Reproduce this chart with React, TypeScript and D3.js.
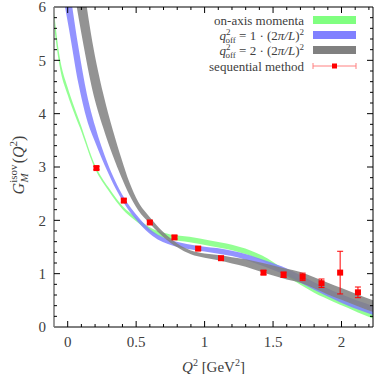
import React, { useEffect, useRef } from "react";
import * as d3 from "d3";

// on-axis momenta band (centre + half width)
const onAxisQ2 = [-0.1, -0.06, 0.0, 0.04, 0.09, 0.2, 0.3, 0.4, 0.5, 0.62, 0.75, 0.89, 1.04, 1.2, 1.33, 1.42, 1.5, 1.6, 1.7, 1.8, 1.94, 2.04, 2.12, 2.23];
const onAxisMid = [5.78, 5.0, 4.42, 4.12, 3.78, 3.0, 2.58, 2.24, 2.02, 1.8, 1.69, 1.64, 1.57, 1.49, 1.39, 1.29, 1.17, 1.0, 0.84, 0.69, 0.53, 0.42, 0.33, 0.22];
const onAxisHalf = [0.13, 0.09, 0.07, 0.06, 0.05, 0.035, 0.03, 0.03, 0.035, 0.04, 0.045, 0.05, 0.05, 0.05, 0.05, 0.05, 0.05, 0.05, 0.05, 0.05, 0.055, 0.055, 0.06, 0.06];

// q_off^2 = 1 (2pi/L)^2
const off1Q2 = [-0.03, 0.01, 0.08, 0.14, 0.2, 0.29, 0.35, 0.41, 0.52, 0.62, 0.77, 0.87, 1.0, 1.09, 1.2, 1.33, 1.45, 1.6, 1.7, 1.8, 1.94, 2.04, 2.12, 2.23];
const off1Mid = [6.65, 6.0, 4.88, 4.13, 3.62, 3.0, 2.66, 2.38, 2.0, 1.75, 1.57, 1.51, 1.46, 1.43, 1.38, 1.29, 1.18, 1.03, 0.9, 0.77, 0.6, 0.49, 0.41, 0.31];
const off1Half = [0.5, 0.42, 0.34, 0.24, 0.15, 0.08, 0.065, 0.055, 0.05, 0.045, 0.045, 0.045, 0.045, 0.05, 0.05, 0.055, 0.06, 0.065, 0.07, 0.07, 0.075, 0.08, 0.08, 0.085];

// q_off^2 = 2 (2pi/L)^2
const off2Q2 = [0.05, 0.106, 0.18, 0.26, 0.33, 0.39, 0.45, 0.515, 0.6, 0.7, 0.8, 0.9, 1.0, 1.1, 1.2, 1.3, 1.4, 1.5, 1.6, 1.7, 1.8, 1.9, 2.0, 2.1, 2.23];
const off2Mid = [6.9, 6.0, 4.9, 4.05, 3.45, 3.0, 2.6, 2.27, 2.0, 1.73, 1.53, 1.4, 1.34, 1.3, 1.25, 1.2, 1.13, 1.06, 0.99, 0.93, 0.83, 0.72, 0.62, 0.52, 0.39];
const off2Half = [0.66, 0.58, 0.45, 0.32, 0.24, 0.18, 0.12, 0.08, 0.06, 0.045, 0.035, 0.035, 0.04, 0.05, 0.06, 0.07, 0.085, 0.095, 0.1, 0.1, 0.105, 0.11, 0.11, 0.11, 0.11];

// sequential method points
const seqQ2 = [0.21, 0.41, 0.6, 0.78, 0.953, 1.12, 1.43, 1.577, 1.716, 1.854, 1.99, 2.12];
const seqG = [2.98, 2.37, 1.96, 1.68, 1.47, 1.29, 1.02, 0.98, 0.94, 0.82, 1.02, 0.65];
const seqErr = [0.03, 0.03, 0.03, 0.03, 0.03, 0.03, 0.04, 0.05, 0.07, 0.08, 0.4, 0.1];

const xTicks = [0, 0.5, 1, 1.5, 2];
const yTicks = [0, 1, 2, 3, 4, 5, 6];

const GREEN = "#80ff80";
const BLUE = "#8080ff";
const GRAY = "#808080";
const RED = "#ff0000";
const TEXT = "#404040";
const FONT = "Liberation Serif, serif";

export default function App() {
  const svgRef = useRef<SVGSVGElement>(null);

  useEffect(() => {
    if (!svgRef.current) return;
    const width = 375;
    const height = 374;
    const m = { left: 54, right: 2, top: 7, bottom: 47 };

    const svg = d3.select(svgRef.current);
    svg.selectAll("*").remove();
    svg.attr("viewBox", `0 0 ${width} ${height}`);

    const x = d3.scaleLinear().domain([-0.1, 2.23]).range([m.left, width - m.right]);
    const y = d3.scaleLinear().domain([0, 6]).range([height - m.bottom, m.top]);

    svg.append("defs")
      .append("clipPath")
      .attr("id", "plot-clip")
      .append("rect")
      .attr("x", m.left)
      .attr("y", m.top)
      .attr("width", width - m.left - m.right)
      .attr("height", height - m.top - m.bottom);

    const plot = svg.append("g").attr("clip-path", "url(#plot-clip)");

    // bands
    const bands = [
      { q: onAxisQ2, mid: onAxisMid, half: onAxisHalf, color: GREEN },
      { q: off1Q2, mid: off1Mid, half: off1Half, color: BLUE },
      { q: off2Q2, mid: off2Mid, half: off2Half, color: GRAY },
    ];
    bands.forEach((b) => {
      const area = d3
        .area<number>()
        .x((i) => x(b.q[i]))
        .y0((i) => y(b.mid[i] - b.half[i]))
        .y1((i) => y(b.mid[i] + b.half[i]))
        .curve(d3.curveMonotoneX);
      plot
        .append("path")
        .attr("d", area(d3.range(b.q.length)))
        .attr("fill", b.color)
        .attr("fill-opacity", 0.85)
        .attr("stroke", "none");
    });

    // error bars + squares
    seqQ2.forEach((q, i) => {
      const cx = x(q);
      const top = y(seqG[i] + seqErr[i]);
      const bot = y(seqG[i] - seqErr[i]);
      plot.append("line").attr("x1", cx).attr("x2", cx).attr("y1", top).attr("y2", bot)
        .attr("stroke", RED).attr("stroke-width", 1);
      [top, bot].forEach((yy) => {
        plot.append("line").attr("x1", cx - 3).attr("x2", cx + 3).attr("y1", yy).attr("y2", yy)
          .attr("stroke", RED).attr("stroke-width", 1);
      });
      plot.append("rect").attr("x", cx - 3).attr("y", y(seqG[i]) - 3)
        .attr("width", 6).attr("height", 6).attr("fill", RED);
    });

    // frame
    const x0 = m.left, x1 = width - m.right, y0 = height - m.bottom, y1 = m.top;
    const axes = svg.append("g");
    axes.append("line").attr("x1", x0).attr("x2", x1).attr("y1", y0).attr("y2", y0).attr("stroke", "#000");
    axes.append("line").attr("x1", x0).attr("x2", x1).attr("y1", y1).attr("y2", y1).attr("stroke", "#000");
    axes.append("line").attr("x1", x0).attr("x2", x0).attr("y1", y1).attr("y2", y0)
      .attr("stroke", "#777").attr("stroke-width", 1.5);
    axes.append("line").attr("x1", x1).attr("x2", x1).attr("y1", y1).attr("y2", y0).attr("stroke", "#000");

    // x ticks
    const xMinor = d3.range(0, 23).map((k) => k / 10);
    xMinor.forEach((v) => {
      const major = xTicks.some((t) => Math.abs(t - v) < 1e-6);
      const len = major ? 6 : 3;
      axes.append("line").attr("x1", x(v)).attr("x2", x(v)).attr("y1", y0).attr("y2", y0 - len).attr("stroke", "#000");
      axes.append("line").attr("x1", x(v)).attr("x2", x(v)).attr("y1", y1).attr("y2", y1 + len).attr("stroke", "#000");
    });
    xTicks.forEach((v) => {
      axes.append("text").attr("x", x(v)).attr("y", y0 + 20).attr("text-anchor", "middle")
        .style("font-family", FONT).attr("font-size", 15).attr("fill", TEXT).text(String(v));
    });

    // y ticks
    const yMinor = d3.range(1, 30).map((k) => k / 5);
    yMinor.forEach((v) => {
      const major = yTicks.some((t) => Math.abs(t - v) < 1e-6);
      const len = major ? 6 : 3;
      axes.append("line").attr("x1", x0).attr("x2", x0 + len).attr("y1", y(v)).attr("y2", y(v)).attr("stroke", "#000");
      axes.append("line").attr("x1", x1).attr("x2", x1 - len).attr("y1", y(v)).attr("y2", y(v)).attr("stroke", "#000");
    });
    yTicks.forEach((v) => {
      axes.append("text").attr("x", x0 - 8).attr("y", y(v)).attr("dy", "0.35em").attr("text-anchor", "end")
        .style("font-family", FONT).attr("font-size", 15).attr("fill", TEXT).text(String(v));
    });

    // x title
    const xt = svg.append("text").attr("x", (x0 + x1) / 2).attr("y", 372).attr("text-anchor", "middle")
      .style("font-family", FONT).attr("font-size", 15).attr("fill", TEXT);
    xt.append("tspan").attr("font-style", "italic").text("Q");
    xt.append("tspan").attr("font-size", 10).attr("dy", -6).text("2");
    xt.append("tspan").attr("dy", 6).text(" [GeV");
    xt.append("tspan").attr("font-size", 10).attr("dy", -6).text("2");
    xt.append("tspan").attr("dy", 6).text("]");

    // y title
    const yt = svg.append("text").attr("transform", `translate(24, ${(y0 + y1) / 2 - 2}) rotate(-90)`)
      .attr("text-anchor", "middle").style("font-family", FONT).attr("font-size", 16).attr("fill", TEXT);
    yt.append("tspan").attr("font-style", "italic").text("G");
    yt.append("tspan").attr("font-size", 11).attr("dy", -7).text("isov");
    yt.append("tspan").attr("font-size", 11).attr("font-style", "italic").attr("dx", -18).attr("dy", 11).text("M");
    yt.append("tspan").attr("dx", 10).attr("dy", -4).text("(");
    yt.append("tspan").attr("font-style", "italic").text("Q");
    yt.append("tspan").attr("font-size", 11).attr("dy", -7).text("2");
    yt.append("tspan").attr("dy", 7).text(")");

    // legend
    const lg = svg.append("g").style("font-family", FONT).attr("font-size", 13).attr("fill", TEXT);
    const textX = 304;
    const swX0 = 313;
    const swX1 = 356;
    const rows = [20, 35, 50, 66];

    lg.append("text").attr("x", textX).attr("y", rows[0]).attr("dy", "0.35em").attr("text-anchor", "end").text("on-axis momenta");

    [1, 2].forEach((n, k) => {
      const t = lg.append("text").attr("x", textX).attr("y", rows[k + 1]).attr("dy", "0.35em").attr("text-anchor", "end");
      t.append("tspan").attr("font-style", "italic").text("q");
      t.append("tspan").attr("font-size", 9).attr("dy", -5).text("2");
      t.append("tspan").attr("font-size", 9).attr("dx", -5).attr("dy", 8).text("off");
      t.append("tspan").attr("dy", -3).text(` = ${n} · (2`);
      t.append("tspan").attr("font-style", "italic").text("π/L");
      t.append("tspan").text(")");
      t.append("tspan").attr("font-size", 9).attr("dy", -5).text("2");
    });

    lg.append("text").attr("x", textX).attr("y", rows[3]).attr("dy", "0.35em").attr("text-anchor", "end").text("sequential method");

    [GREEN, BLUE, GRAY].forEach((c, k) => {
      lg.append("rect").attr("x", swX0).attr("y", rows[k] - 4).attr("width", swX1 - swX0).attr("height", 8).attr("fill", c);
    });
    const ly = rows[3];
    lg.append("line").attr("x1", swX0).attr("x2", swX1).attr("y1", ly).attr("y2", ly).attr("stroke", "#ff8080");
    [swX0, swX1].forEach((xx) => {
      lg.append("line").attr("x1", xx).attr("x2", xx).attr("y1", ly - 3).attr("y2", ly + 3).attr("stroke", "#ff8080");
    });
    lg.append("rect").attr("x", (swX0 + swX1) / 2 - 2.5).attr("y", ly - 2.5).attr("width", 5).attr("height", 5).attr("fill", RED);
  }, []);

  return (
    <svg
      ref={svgRef}
      width={375}
      height={374}
      style={{ position: "absolute", left: 0, top: 0, background: "#fff" }}
    />
  );
}
